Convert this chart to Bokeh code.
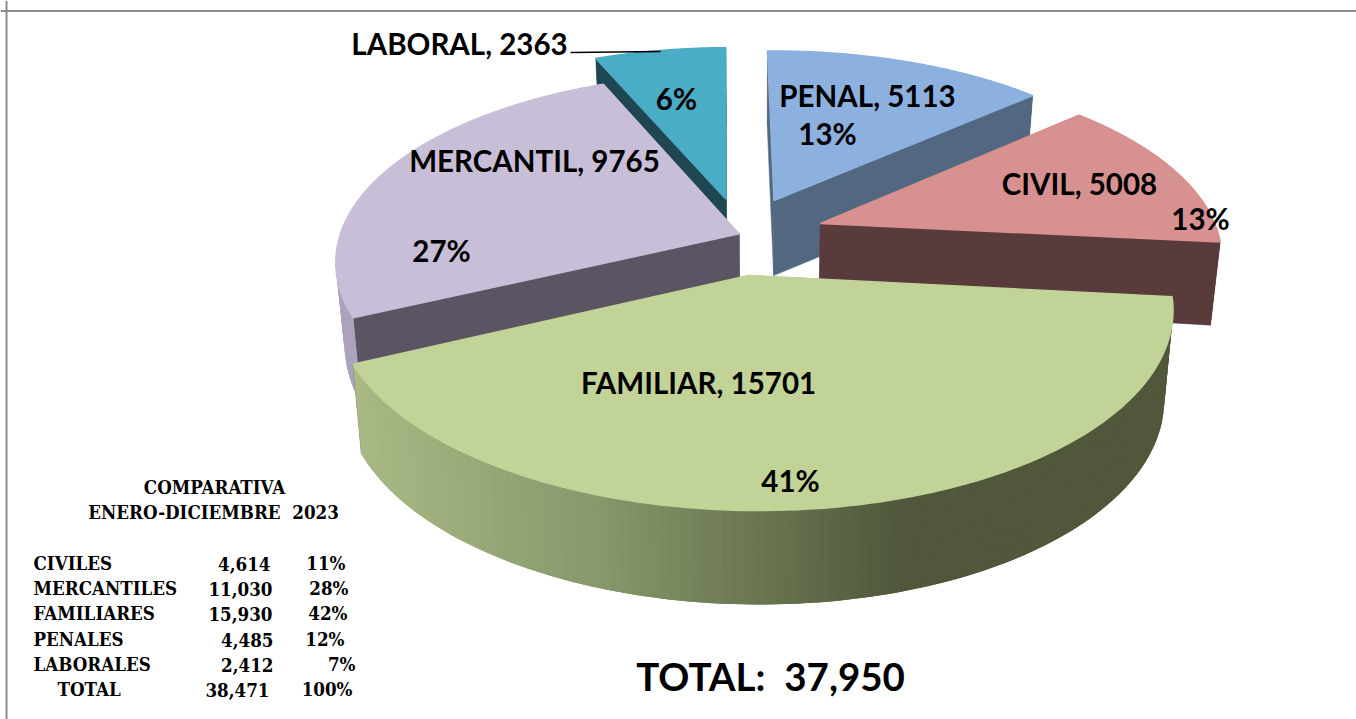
import numpy as np
from bokeh.plotting import figure
from bokeh.models import Span
from bokeh.core.properties import value
from bokeh.embed import file_html
from bokeh.resources import INLINE

# ---- data
slice_names = ["PENAL", "CIVIL", "FAMILIAR", "MERCANTIL", "LABORAL"]
slice_values = [5113, 5008, 15701, 9765, 2363]
slice_percents = [13, 13, 41, 27, 6]
total_label = "TOTAL:\u00a0 37,950"

table_titles = ["COMPARATIVA", "ENERO-DICIEMBRE\u00a0 2023"]
table_names = ["CIVILES", "MERCANTILES", "FAMILIARES", "PENALES", "LABORALES", "TOTAL"]
table_values = ["4,614", "11,030", "15,930", "4,485", "2,412", "38,471"]
table_percents = ["11%", "28%", "42%", "12%", "7%", "100%"]

# ---- styling / layout
top_colors = ["#8DB1DF", "#D79190", "#C2D398", "#C9BED7", "#4BACC6"]
face_colors = ["#526880", "#593B3C", "#50573B", "#5B5462", "#1F4753"]
wall_colors = ["#526880", "#593B3C", None, "#ACA2BC", "#1F4753"]
explode_u = [0.0695, 0.1839, 0.0, -0.0212, -0.0541]
explode_v = [0.4045, 0.2744, 0.0, 0.2182, 0.4118]
radius = [0.985, 0.98, 1.0, 1.01, 1.005]
paint_order = [0, 4, 1, 3, 2]
grad_x = [362, 600, 900, 1200]
grad_rgb = np.array([[0xA9, 0xB9, 0x85], [0x87, 0x98, 0x6B], [0x50, 0x57, 0x3B], [0x50, 0x57, 0x3B]], float)

FONT = "Lato"
SERIF = "DejaVu Serif Condensed"

p = figure(width=1356, height=719, x_range=(0, 1356), y_range=(719, 0),
           toolbar_location=None, output_backend="svg", min_border=0,
           background_fill_color="white", border_fill_color="white")
p.axis.visible = False
p.grid.visible = False
p.outline_line_color = None

p.add_layout(Span(location=10.5, dimension="width", line_color="#8C8C8C", line_width=2))
p.add_layout(Span(location=6, dimension="height", line_color="#8C8C8C", line_width=2))


def project(u, v):
    w = 1 - 0.0115 * u + 0.16 * v
    return 748 + (413.5 * u - 4.0 * v) / w, 275 - 197.4 * v / w, w


def lower(x, y, w):
    return x + 0.021 * (757 - x), y + np.interp(w, [0.84, 0.9425, 1.015, 1.065], [94, 90, 83, 75])


def hexcol(rgb):
    return "#%02X%02X%02X" % tuple(int(round(c)) for c in rgb)


vals = np.array(slice_values, float)
edges = np.concatenate([[0], np.cumsum(vals) / vals.sum() * 2 * np.pi])

for i in paint_order:
    th = np.linspace(edges[i], edges[i + 1], 120)
    u = explode_u[i] + radius[i] * np.sin(th)
    v = explode_v[i] + radius[i] * np.cos(th)
    ax, ay, aw = project(explode_u[i], explode_v[i])
    bx, by = lower(ax, ay, aw)
    x, y, w = project(u, v)
    lx, ly = lower(x, y, w)
    # radial faces
    for k in (0, -1):
        p.patch([ax, x[k], lx[k], bx], [ay, y[k], ly[k], by],
                fill_color=face_colors[i], line_color=face_colors[i], line_width=0.5)
    # outer wall: each strip overlaps the next so no seams show
    xs, ys, cols = [], [], []
    n = len(th)
    for k in range(n - 1):
        e = min(k + 2, n - 1)
        xs.append([x[k], *x[k + 1:e + 1], *lx[k + 1:e + 1][::-1], lx[k]])
        ys.append([y[k], *y[k + 1:e + 1], *ly[k + 1:e + 1][::-1], ly[k]])
        if wall_colors[i] is None:
            mx = (lx[k] + lx[k + 1]) / 2
            rgb = [np.interp(mx, grad_x, grad_rgb[:, c]) for c in range(3)]
            cols.append(hexcol(rgb))
        else:
            cols.append(wall_colors[i])
    p.patches(xs, ys, fill_color=cols, line_color=None)
    # top
    p.patch(np.r_[ax, x], np.r_[ay, y], fill_color=top_colors[i], line_color=top_colors[i], line_width=1.5)

# leader line
p.line([570, 660], [52, 51], line_color="black", line_width=1.6)


def txt(x, y, s, size, font=FONT, align="left"):
    p.text([x], [y], text=[s], text_font=value(font), text_font_style="bold",
           text_font_size=size, text_color="black", text_align=align, text_baseline="middle")


# pie labels
name_pos = [(867, 95), (1079, 183), (698, 381.5), (534, 160), (459, 43)]
pct_pos = [(827, 133), (1200, 218), (790, 480), (441, 250), (676, 98)]
for i, nm in enumerate(slice_names):
    txt(name_pos[i][0], name_pos[i][1], f"{nm}, {slice_values[i]}", "29.5px", align="center")
    txt(pct_pos[i][0], pct_pos[i][1], f"{slice_percents[i]}%", "29.5px", align="center")

txt(770, 675, total_label, "38.5px", align="center")

# comparison table
TS = "18.6px"
txt(214, 487, table_titles[0], TS, SERIF, "center")
txt(213, 512, table_titles[1], TS, SERIF, "center")
row_y = [563, 588, 613, 639, 664, 689]
name_x = [33, 33, 33, 33, 33, 57]
val_x = [270, 272, 272, 273, 273, 269]
pct_x = [345, 348, 347, 344, 355, 352]
for i in range(6):
    txt(name_x[i], row_y[i], table_names[i], TS, SERIF)
    txt(val_x[i], row_y[i], table_values[i], TS, SERIF, "right")
    txt(pct_x[i], row_y[i], table_percents[i], TS, SERIF, "right")

open("out.html", "w").write(file_html(p, INLINE))
